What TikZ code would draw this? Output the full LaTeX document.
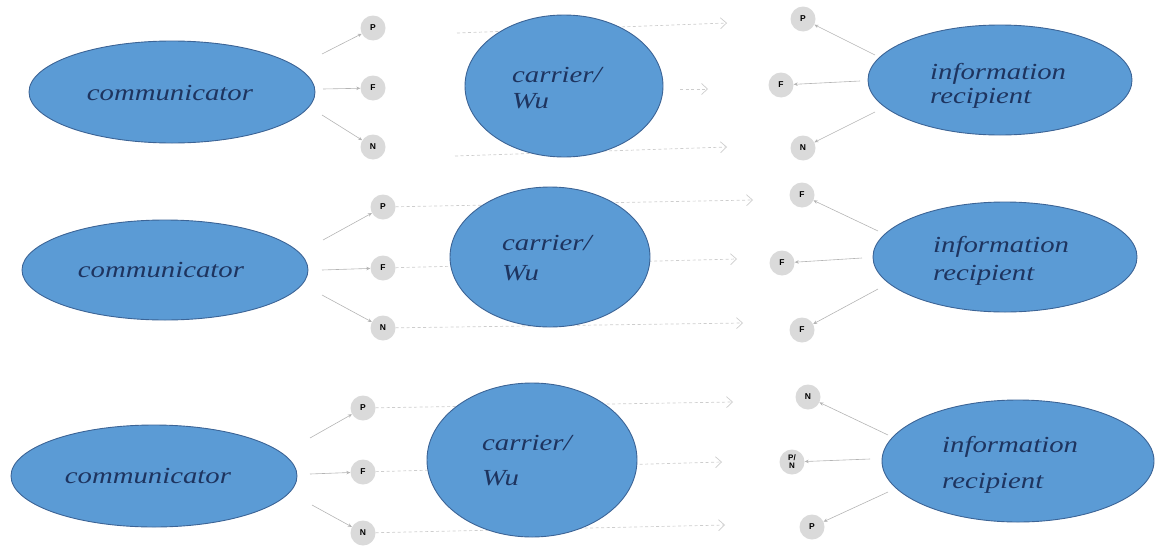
\documentclass[tikz,border=0pt]{standalone}
\usepackage{fontspec}
\setmainfont{Liberation Serif}
\newfontfamily\circfont{Liberation Sans}
\usetikzlibrary{shapes.geometric,arrows.meta}
\definecolor{ellfill}{RGB}{91,155,213}
\definecolor{elldraw}{RGB}{60,100,150}
\definecolor{elltext}{RGB}{30,52,95}
\definecolor{circfill}{RGB}{218,218,218}
\definecolor{shortline}{RGB}{180,180,180}
\definecolor{longline}{RGB}{205,205,205}
\tikzset{
  bigell/.style={ellipse, draw=elldraw, line width=0.9pt, fill=ellfill, inner sep=0pt},
  lab/.style={text=elltext, inner sep=0pt, font=\fontsize{23}{23}\selectfont\itshape},
  small/.style={circle, fill=circfill, minimum size=25pt, inner sep=0pt, align=center,
                font=\circfont\bfseries\fontsize{8.5}{7.5}\selectfont},
  shortarr/.style={draw=shortline, line width=0.6pt, -{Stealth[length=4pt,width=3.5pt]}},
  longarr/.style={draw=longline, line width=0.7pt, dash pattern=on 3pt off 2.5pt,
                  -{Straight Barb[length=6pt,width=11pt]}},
}
\newcommand{\wide}[1]{\scalebox{1.25}[1]{#1}}
\begin{document}
\begin{tikzpicture}[x=1pt,y=-1pt]
\useasboundingbox (0,0) rectangle (1155,546);

% ---------------- Row 1 ----------------
\coordinate (a1s) at (457,33);  \coordinate (a1e) at (727,23);
\coordinate (b1s) at (680,89);  \coordinate (b1e) at (708,89);
\coordinate (c1s) at (455,156); \coordinate (c1e) at (727,147);
\draw[longarr] (a1s) -- (a1e);
\draw[longarr] (b1s) -- (b1e);
\draw[longarr] (c1s) -- (c1e);

\node[bigell, minimum width=286pt, minimum height=102pt] (com1) at (172,92) {};
\node[bigell, minimum width=198pt, minimum height=142pt] (car1) at (564,86) {};
\node[bigell, minimum width=264pt, minimum height=110pt] (rec1) at (1000,80) {};

\node[lab, anchor=base] (com1t) at (170,100) {\wide{communicator}};
\node[lab, anchor=base west] (car1t) at (512,82) {\wide{carrier/}};
\node[lab, anchor=base west] (car1u) at (512,108) {\wide{Wu}};
\node[lab, anchor=base west] (rec1t) at (930,79) {\wide{information}};
\node[lab, anchor=base west] (rec1u) at (930,103) {\wide{recipient}};

\node[small] (p1l) at (373,28) {P};
\node[small] (f1l) at (373,88) {F};
\node[small] (n1l) at (373,147) {N};
\node[small] (p1r) at (803,19) {P};
\node[small] (f1r) at (781,85) {F};
\node[small] (n1r) at (803,148) {N};

\coordinate (o1a) at (322,54);  \coordinate (o1b) at (323,89);  \coordinate (o1c) at (322,115);
\draw[shortarr] (o1a) -- (p1l);
\draw[shortarr] (o1b) -- (f1l);
\draw[shortarr] (o1c) -- (n1l);
\coordinate (i1a) at (875,55);  \coordinate (i1b) at (860,81);  \coordinate (i1c) at (875,112);
\draw[shortarr] (i1a) -- (p1r);
\draw[shortarr] (i1b) -- (f1r);
\draw[shortarr] (i1c) -- (n1r);

% ---------------- Row 2 ----------------
\node[small] (p2l) at (383,207) {P};
\node[small] (f2l) at (383,268) {F};
\node[small] (n2l) at (383,328) {N};
\coordinate (a2e) at (753,200);
\coordinate (b2e) at (737,259);
\coordinate (c2e) at (743,323);
\draw[longarr] (p2l) -- (a2e);
\draw[longarr] (f2l) -- (b2e);
\draw[longarr] (n2l) -- (c2e);

\node[bigell, minimum width=286pt, minimum height=100pt] (com2) at (165,270) {};
\node[bigell, minimum width=200pt, minimum height=140pt] (car2) at (550,257) {};
\node[bigell, minimum width=264pt, minimum height=110pt] (rec2) at (1005,257) {};

\node[lab, anchor=base] (com2t) at (161,277) {\wide{communicator}};
\node[lab, anchor=base west] (car2t) at (502,250) {\wide{carrier/}};
\node[lab, anchor=base west] (car2u) at (502,280) {\wide{Wu}};
\node[lab, anchor=base west] (rec2t) at (933,252) {\wide{information}};
\node[lab, anchor=base west] (rec2u) at (933,280) {\wide{recipient}};

\node[small] (p2r) at (802,195) {F};
\node[small] (f2r) at (782,263) {F};
\node[small] (n2r) at (802,330) {F};

\coordinate (o2a) at (323,240);  \coordinate (o2b) at (322,270);  \coordinate (o2c) at (322,295);
\draw[shortarr] (o2a) -- (p2l);
\draw[shortarr] (o2b) -- (f2l);
\draw[shortarr] (o2c) -- (n2l);
\coordinate (i2a) at (878,231);  \coordinate (i2b) at (862,258);  \coordinate (i2c) at (878,289);
\draw[shortarr] (i2a) -- (p2r);
\draw[shortarr] (i2b) -- (f2r);
\draw[shortarr] (i2c) -- (n2r);

% ---------------- Row 3 ----------------
\node[small] (p3l) at (363,408) {P};
\node[small] (f3l) at (363,472) {F};
\node[small] (n3l) at (363,533) {N};
\coordinate (a3e) at (733,402);
\coordinate (b3e) at (722,462);
\coordinate (c3e) at (725,525);
\draw[longarr] (p3l) -- (a3e);
\draw[longarr] (f3l) -- (b3e);
\draw[longarr] (n3l) -- (c3e);

\node[bigell, minimum width=286pt, minimum height=102pt] (com3) at (154,476) {};
\node[bigell, minimum width=210pt, minimum height=154pt] (car3) at (532,460) {};
\node[bigell, minimum width=272pt, minimum height=122pt] (rec3) at (1018,461) {};

\node[lab, anchor=base] (com3t) at (148,483) {\wide{communicator}};
\node[lab, anchor=base west] (car3t) at (482,450) {\wide{carrier/}};
\node[lab, anchor=base west] (car3u) at (482,485) {\wide{Wu}};
\node[lab, anchor=base west] (rec3t) at (942,452) {\wide{information}};
\node[lab, anchor=base west] (rec3u) at (942,488) {\wide{recipient}};

\node[small] (p3r) at (808,397) {N};
\node[small, font=\circfont\bfseries\fontsize{8}{8}\selectfont] (f3r) at (792,462) {P/\\N};
\node[small] (n3r) at (812,527) {P};

\coordinate (o3a) at (310,438);  \coordinate (o3b) at (310,474);  \coordinate (o3c) at (312,505);
\draw[shortarr] (o3a) -- (p3l);
\draw[shortarr] (o3b) -- (f3l);
\draw[shortarr] (o3c) -- (n3l);
\coordinate (i3a) at (888,435);  \coordinate (i3b) at (870,459);  \coordinate (i3c) at (888,492);
\draw[shortarr] (i3a) -- (p3r);
\draw[shortarr] (i3b) -- (f3r);
\draw[shortarr] (i3c) -- (n3r);
\end{tikzpicture}
\end{document}
